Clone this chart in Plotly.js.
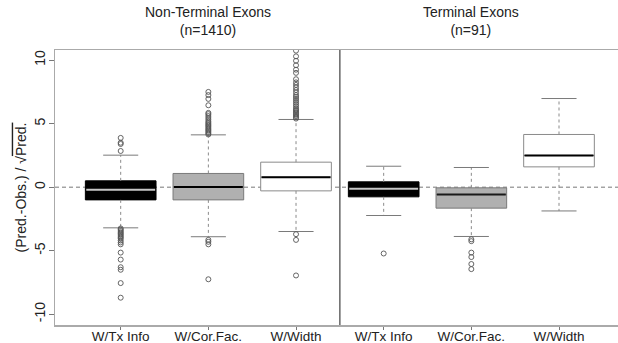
<!DOCTYPE html>
<html>
<head>
<meta charset="utf-8">
<script src="https://cdn.plot.ly/plotly-3.0.1.min.js"></script>
<style>html,body{margin:0;padding:0;background:#fff;}#chart{width:618px;height:343px;}</style>
</head>
<body>
<div id="chart"></div>
<script>
// ---- data ----
var positions = [1, 2, 3, 4, 5, 6];
var tickLabels = ["W/Tx Info", "W/Cor.Fac.", "W/Width", "W/Tx Info", "W/Cor.Fac.", "W/Width"];
var groupTitles = ["Non-Terminal Exons<br>(n=1410)", "Terminal Exons<br>(n=91)"];
var groupTitleX = [2, 5];

var q1      = [-1.00, -1.00, -0.29, -0.76, -1.65, 1.60];
var medians = [-0.20,  0.02,  0.79, -0.13, -0.58, 2.50];
var q3      = [ 0.50,  1.08,  1.97,  0.42, -0.05, 4.15];
var lowerWhisker = [-3.20, -3.90, -3.49, -2.23, -3.88, -1.87];
var upperWhisker = [ 2.52,  4.12,  5.33,  1.65,  1.55,  6.98];

var outliers1 = [2.85, 3.40, 3.50, 3.88, -3.25, -3.35, -3.45, -3.55, -3.65, -3.75, -3.85, -3.95, -4.05, -4.20, -4.35, -4.50, -5.15, -5.70, -6.30, -6.50, -7.55, -8.70];
var outliers2 = [4.15, 4.25, 4.35, 4.45, 4.55, 4.65, 4.75, 4.85, 4.95, 5.05, 5.15, 5.30, 5.45, 5.60, 5.75, 5.85, 6.45, 6.95, 7.25, 7.50, -4.15, -4.30, -4.50, -7.25];
var outliers3 = [5.40, 5.50, 5.60, 5.70, 5.80, 5.90, 6.00, 6.10, 6.20, 6.35, 6.50, 6.65, 6.80, 6.95, 7.10, 7.25, 7.45, 7.65, 7.85, 8.05, 8.25, 8.50, 9.00, 9.25, 9.60, 9.95, 10.30, 10.75, -3.70, -4.15, -6.95];
var outliers4 = [-5.22];
var outliers5 = [-4.10, -4.25, -5.15, -5.50, -6.05, -6.45];
var outliers6 = [];

var boxFill     = ["#000000", "#b0b0b0", "#ffffff", "#000000", "#b0b0b0", "#ffffff"];
var boxLine     = ["#000000", "#7a7a7a", "#8a8a8a", "#000000", "#7a7a7a", "#8a8a8a"];
var medianColor = ["#c8c8c8", "#000000", "#000000", "#c8c8c8", "#1a1a1a", "#000000"];

var BOXW = 0.806, CAPW = 0.2;
var outlierSets = [outliers1, outliers2, outliers3, outliers4, outliers5, outliers6];

var traces = [];
// whiskers (dashed) and caps (solid)
positions.forEach(function (p, i) {
  traces.push({
    type: 'scatter', mode: 'lines', hoverinfo: 'skip', showlegend: false,
    x: [p, p, null, p, p], y: [q3[i], upperWhisker[i], null, q1[i], lowerWhisker[i]],
    line: {color: '#8a8a8a', width: 1, dash: '3px,3px'}
  });
  traces.push({
    type: 'scatter', mode: 'lines', hoverinfo: 'skip', showlegend: false,
    x: [p - CAPW, p + CAPW, null, p - CAPW, p + CAPW],
    y: [upperWhisker[i], upperWhisker[i], null, lowerWhisker[i], lowerWhisker[i]],
    line: {color: '#7a7a7a', width: 1}
  });
});
// boxes
positions.forEach(function (p, i) {
  traces.push({
    type: 'box', showlegend: false,
    x: [p], q1: [q1[i]], median: [medians[i]], q3: [q3[i]],
    lowerfence: [q1[i]], upperfence: [q3[i]],
    width: BOXW, whiskerwidth: 0,
    fillcolor: boxFill[i], line: {color: boxLine[i], width: 1}
  });
  traces.push({
    type: 'scatter', mode: 'lines', hoverinfo: 'skip', showlegend: false,
    x: [p - BOXW / 2 + 0.01, p + BOXW / 2 - 0.01], y: [medians[i], medians[i]],
    line: {color: medianColor[i], width: 2}
  });
  if (outlierSets[i].length) {
    traces.push({
      type: 'scatter', mode: 'markers', showlegend: false,
      x: outlierSets[i].map(function () { return p; }), y: outlierSets[i],
      marker: {symbol: 'circle-open', size: 5, color: '#555555', line: {width: 0.9}}
    });
  }
});

var FONT = 'Liberation Sans, Arial, sans-serif';
var layout = {
  width: 618, height: 343,
  margin: {l: 55, r: 0, t: 50, b: 18, pad: 0},
  paper_bgcolor: '#ffffff', plot_bgcolor: '#ffffff',
  boxmode: 'overlay',
  font: {family: FONT, size: 14, color: '#222222'},
  xaxis: {
    range: [0.2505, 6.673], showgrid: false, zeroline: false,
    tickmode: 'array', tickvals: positions, ticktext: tickLabels,
    ticks: 'outside', ticklen: 3, tickcolor: '#777', tickwidth: 1,
    ticklabelstandoff: -5,
    showline: true, mirror: true, linecolor: '#aaaaaa', linewidth: 1.5,
    tickfont: {family: FONT, size: 13.5, color: '#222'}
  },
  yaxis: {
    range: [-10.85, 10.8], showgrid: false, zeroline: false,
    tickmode: 'array', tickvals: [-10, -5, 0, 5, 10], ticktext: ['-10', '-5', '0', '5', '10'],
    tickangle: -90, ticks: 'outside', ticklen: 5, tickcolor: '#777', tickwidth: 1,
    ticklabelstandoff: -2,
    showline: true, mirror: false, linecolor: '#aaaaaa', linewidth: 1.5,
    tickfont: {family: FONT, size: 14, color: '#222'},
    title: {text: "(Pred.-Obs.) / √<span style='text-decoration:overline'>Pred.</span>", standoff: 2,
            font: {family: FONT, size: 14, color: '#222'}}
  },
  shapes: [
    {type: 'line', xref: 'paper', yref: 'y', x0: 0, x1: 1, y0: 0, y1: 0,
     line: {color: '#777777', width: 1, dash: '4px,3px'}, layer: 'below'},
    {type: 'line', xref: 'x', yref: 'paper', x0: 3.5, x1: 3.5, y0: 0, y1: 1,
     line: {color: '#666666', width: 1.5}}
  ],
  annotations: groupTitles.map(function (t, i) {
    return {text: t, xref: 'x', yref: 'paper', x: groupTitleX[i], y: 1, yshift: 10,
            xanchor: 'center', yanchor: 'bottom', showarrow: false,
            font: {family: FONT, size: 14, color: '#222'}};
  })
};

Plotly.newPlot('chart', traces, layout, {displayModeBar: false, staticPlot: true});
</script>
</body>
</html>
